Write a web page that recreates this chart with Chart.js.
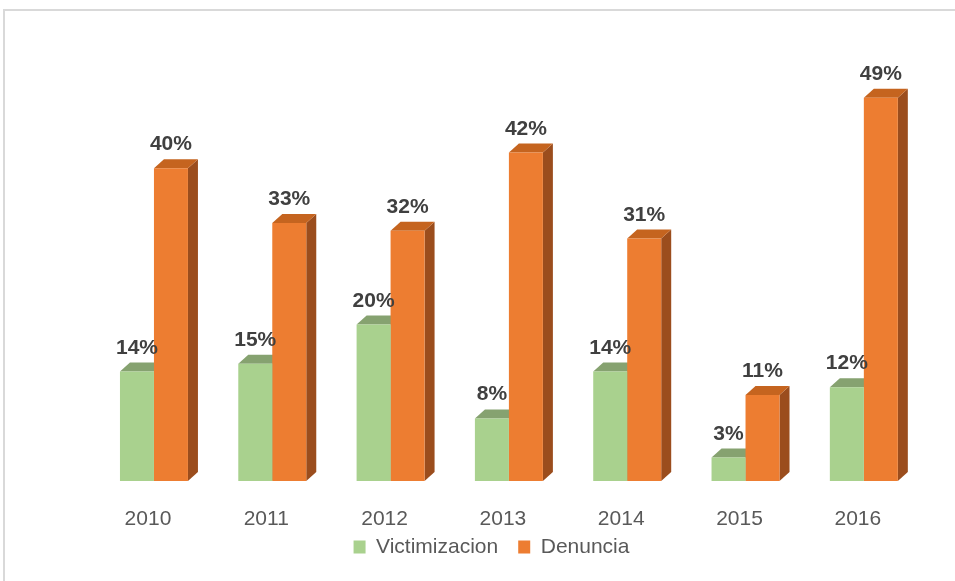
<!DOCTYPE html>
<html><head><meta charset="utf-8">
<script src="https://cdn.jsdelivr.net/npm/chart.js@4"></script>
<style>
html,body{margin:0;padding:0;background:#fff;overflow:hidden;width:955px;height:581px}
#frame{position:absolute;left:3px;top:9px;width:1100px;height:1000px;border:2px solid #d9d9d9;box-sizing:border-box}
#wrap{position:absolute;left:60px;top:0;width:863px;height:581px}
</style></head><body>
<div id="frame"></div>
<div id="wrap"><canvas id="c" width="863" height="581"></canvas></div>
<script>
const categories = ['2010', '2011', '2012', '2013', '2014', '2015', '2016'];
const victimizacion = [14, 15, 20, 8, 14, 3, 12];
const denuncia = [40, 33, 32, 42, 31, 11, 49];
const seriesNames = ['Victimizacion', 'Denuncia'];

const FONT = '"Liberation Sans", Arial, sans-serif';
const DX = 10, DY = 9;
const frontColors = ['#a9d18e', '#ed7d31'];
const faceColors = [{top: '#86a270', side: '#6f8b5c'}, {top: '#c5641f', side: '#9b4d1d'}];

const bar3d = {
  id: 'bar3d',
  afterLayout(chart) {
    const lg = chart.legend;
    if (lg) { lg.top -= 13.5; lg.bottom -= 13.5; }
  },
  beforeDatasetsDraw(chart) {
    const ctx = chart.ctx;
    ctx.save();
    for (let i = 0; i < chart.data.labels.length; i++) {
      chart.data.datasets.forEach((ds, d) => {
        const el = chart.getDatasetMeta(d).data[i];
        const {x, y, base, width} = el.getProps(['x', 'y', 'base', 'width'], true);
        const l = x - width / 2, r = x + width / 2;
        ctx.fillStyle = faceColors[d].side;
        ctx.beginPath();
        ctx.moveTo(r, y); ctx.lineTo(r + DX, y - DY); ctx.lineTo(r + DX, base - DY); ctx.lineTo(r, base);
        ctx.closePath(); ctx.fill();
        ctx.fillStyle = faceColors[d].top;
        ctx.beginPath();
        ctx.moveTo(l, y); ctx.lineTo(l + DX, y - DY); ctx.lineTo(r + DX, y - DY); ctx.lineTo(r, y);
        ctx.closePath(); ctx.fill();
      });
    }
    ctx.restore();
  },
  afterDatasetsDraw(chart) {
    const ctx = chart.ctx;
    ctx.save();
    ctx.font = 'bold 21px ' + FONT;
    ctx.fillStyle = '#404040';
    ctx.textAlign = 'center';
    ctx.textBaseline = 'alphabetic';
    chart.data.datasets.forEach((ds, d) => {
      chart.getDatasetMeta(d).data.forEach((el, i) => {
        ctx.fillText(ds.data[i] + '%', el.x, el.y - 18);
      });
    });
    ctx.restore();
  }
};

new Chart(document.getElementById('c'), {
  type: 'bar',
  data: {
    labels: categories,
    datasets: [
      {label: seriesNames[0], data: victimizacion, backgroundColor: frontColors[0], borderWidth: 0},
      {label: seriesNames[1], data: denuncia, backgroundColor: frontColors[1], borderWidth: 0}
    ]
  },
  options: {
    responsive: false,
    animation: false,
    layout: {padding: {top: 90, bottom: 0, left: 0, right: 0}},
    datasets: {bar: {categoryPercentage: 0.5746, barPercentage: 1}},
    scales: {
      x: {
        grid: {display: false, drawTicks: false},
        border: {display: false},
        ticks: {color: '#595959', font: {family: FONT, size: 21}, padding: 26, labelOffset: -6, maxRotation: 0},
        afterFit(s) { s.height = 49; }
      },
      y: {
        min: 0, max: 50,
        grid: {display: false, drawTicks: false},
        border: {display: false},
        ticks: {display: false},
        afterFit(s) { s.width = 34.8; }
      }
    },
    plugins: {
      tooltip: {enabled: false},
      legend: {
        position: 'bottom',
        labels: {boxWidth: 12, boxHeight: 13, padding: 20, color: '#595959', font: {family: FONT, size: 21}}
      }
    }
  },
  plugins: [bar3d]
});
</script>
</body></html>
